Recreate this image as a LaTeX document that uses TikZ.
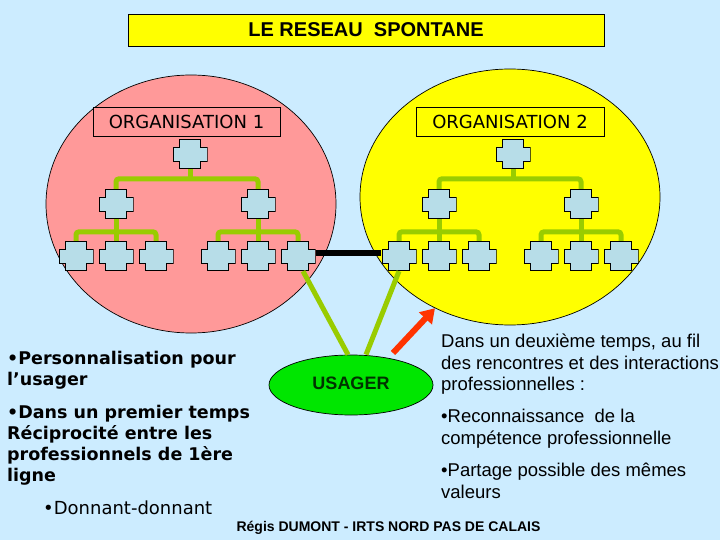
\documentclass[tikz,border=0pt]{standalone}
\usepackage{fontspec}
\setmainfont{Liberation Sans}
\newfontfamily\verdana{DejaVu Sans}
\usetikzlibrary{arrows.meta,positioning,calc,shapes.geometric}
\definecolor{sky}{RGB}{204,236,255}
\definecolor{rose}{RGB}{255,153,153}
\definecolor{jaune}{RGB}{255,255,0}
\definecolor{lien}{RGB}{153,204,0}
\definecolor{poste}{RGB}{183,221,232}
\definecolor{vert}{RGB}{0,230,0}
\definecolor{vertnoir}{RGB}{0,51,0}
\definecolor{fleche}{RGB}{255,51,0}

\begin{document}
\begin{tikzpicture}[x=1pt, y=-1pt,
  zone/.style={ellipse, draw, inner sep=0pt, line width=0.7pt},
  lbl/.style={draw, inner sep=0pt, minimum height=29, line width=0.7pt,
              font=\verdana\fontsize{18}{21}\selectfont},
  unit/.style={inner sep=0pt, minimum width=35, minimum height=30,
    path picture={\draw[fill=poste, line width=0.8pt]
      ([shift={(-10.5,-14.5)}]path picture bounding box.center)
      -- ++(21,0) -- ++(0,7.5) -- ++(6.5,0) -- ++(0,14) -- ++(-6.5,0)
      -- ++(0,7.5) -- ++(-21,0) -- ++(0,-7.5) -- ++(-6.5,0) -- ++(0,-14)
      -- ++(6.5,0) -- cycle;}},
  link/.style={lien, line width=5pt, rounded corners=3pt},
  bar/.style={black, line width=6pt},
  push/.style={fleche, line width=6pt, -{Triangle[width=17pt, length=14pt]}},
  lefttxt/.style={anchor=north west, inner sep=0pt, align=left},
  righttxt/.style={anchor=north west, inner sep=0pt, align=left,
                   font=\fontsize{18.5}{21.5}\selectfont}]
\fill[sky] (0,0) rectangle (720,540);
% the two organisations
\node[zone, fill=rose,  minimum width=290, minimum height=258] (zoneA) at (191,204) {};
\node[zone, fill=jaune, minimum width=300, minimum height=256] (zoneB) at (510,197) {};
\node[lbl, fill=rose,  minimum width=187] (org1) at (186.5,121.5) {ORGANISATION 1};
\node[lbl, fill=jaune, minimum width=188] (org2) at (510,121.5)   {ORGANISATION 2};
\node[draw, fill=jaune, line width=0.9pt, minimum width=476, minimum height=32,
      font=\bfseries\fontsize{20}{24}\selectfont] (titre) at (366,30) {LE RESEAU~~SPONTANE};
% organisation 1
\node[unit] (r1) at (190,154) {};
\node[unit] (m1a) at (116,204) {}; \node[unit] (m1b) at (258,204) {};
\node[unit] (f1a) at (76,256) {};  \node[unit] (f1b) at (116,256) {}; \node[unit] (f1c) at (156,256) {};
\node[unit] (f1d) at (218,256) {}; \node[unit] (f1e) at (258,256) {}; \node[unit] (f1f) at (298,256) {};
% organisation 2
\node[unit] (r2) at (513,154) {};
\node[unit] (m2a) at (439,204) {}; \node[unit] (m2b) at (581,204) {};
\node[unit] (f2a) at (399,256) {}; \node[unit] (f2b) at (439,256) {}; \node[unit] (f2c) at (479,256) {};
\node[unit] (f2d) at (541,256) {}; \node[unit] (f2e) at (581,256) {}; \node[unit] (f2f) at (621,256) {};
\draw[link] (r1.south) -- ++(0,10);
\draw[link] (m1a.north) -- ++(0,-10) -| (m1b.north);
\draw[link] (m1a.south) -- (f1b.north); \draw[link] (m1b.south) -- (f1e.north);
\draw[link] (f1a.north) -- ++(0,-9) -| (f1c.north);
\draw[link] (f1d.north) -- ++(0,-9) -| (f1f.north);
\draw[link] (r2.south) -- ++(0,10);
\draw[link] (m2a.north) -- ++(0,-10) -| (m2b.north);
\draw[link] (m2a.south) -- (f2b.north); \draw[link] (m2b.south) -- (f2e.north);
\draw[link] (f2a.north) -- ++(0,-9) -| (f2c.north);
\draw[link] (f2d.north) -- ++(0,-9) -| (f2f.north);
\draw[bar] ([yshift=3.5pt]f1f.east) -- ([yshift=3.5pt]f2a.west);
% usager
\node[ellipse, draw, fill=vert, inner sep=0pt, minimum width=164, minimum height=60,
      line width=0.7pt, text=vertnoir, font=\bfseries\fontsize{18}{21}\selectfont] (usager) at (351,385) {\raisebox{3pt}{USAGER}};
\draw[link] ([xshift=5pt]f1f.south) -- ([xshift=-3pt]usager.north);
\draw[link] (f2a.south) -- ([xshift=15pt]usager.north);
\coordinate (dep) at (393,353);
\draw[push] (dep) -- (zoneB.236);
% texts
\node[lefttxt, font=\verdana\bfseries\fontsize{17.5}{21}\selectfont] (gauche) at (7,351)
  {•Personnalisation pour\\l’usager\\[12pt]•Dans un premier temps\\Réciprocité entre les\\professionnels de 1ère\\ligne};
\node[lefttxt, font=\verdana\fontsize{18}{21}\selectfont] (donnant) at (43,501) {•Donnant-donnant};
\node[righttxt] (droite) at (441,334)
  {Dans un deuxième temps, au fil\\des rencontres et des interactions\\professionnelles :\\[10.5pt]
   •Reconnaissance\ \ de la\\compétence professionnelle\\[11pt]•Partage possible des mêmes\\valeurs};
\node[anchor=base, inner sep=0pt, font=\bfseries\fontsize{14}{16}\selectfont] (credit) at (388.5,531)
  {Régis DUMONT - IRTS NORD PAS DE CALAIS};
\end{tikzpicture}
\end{document}
